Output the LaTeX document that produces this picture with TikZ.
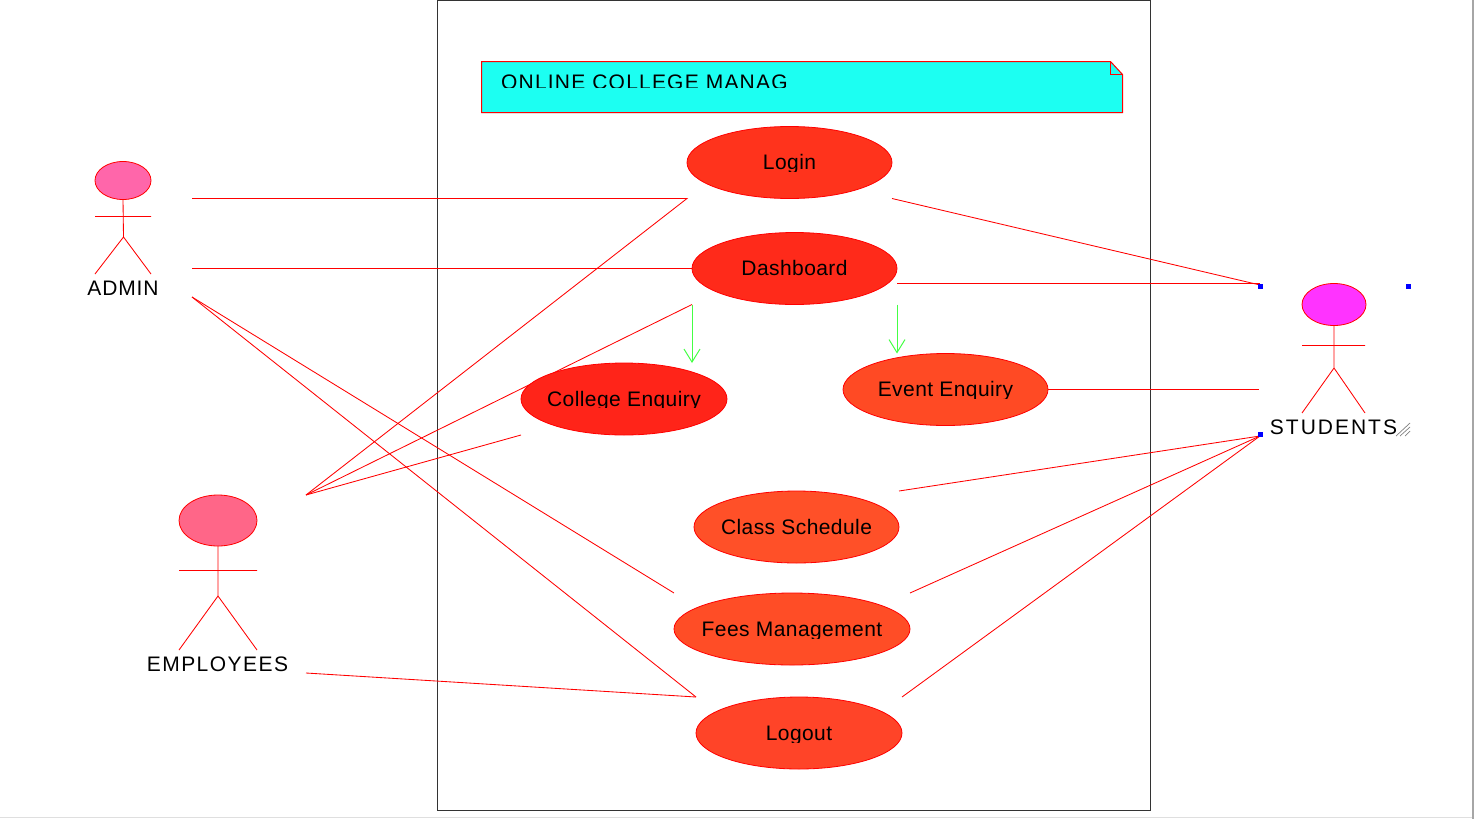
\documentclass[tikz,border=0pt]{standalone}
\usepackage{fontspec}
\setmainfont{Liberation Sans}
\usetikzlibrary{shapes.geometric,arrows.meta,backgrounds}
\definecolor{logincol}{HTML}{FF331C}
\definecolor{dashcol}{HTML}{FF2A1A}
\definecolor{collegecol}{HTML}{FF2419}
\definecolor{eventcol}{HTML}{FF4A24}
\definecolor{classcol}{HTML}{FF5028}
\definecolor{feescol}{HTML}{FF4D26}
\definecolor{logoutcol}{HTML}{FF4428}
\definecolor{admincol}{HTML}{FF66AA}
\definecolor{empcol}{HTML}{FF6688}
\definecolor{studcol}{HTML}{FF33FF}
\definecolor{notecol}{HTML}{1CFFF2}
\definecolor{framecol}{HTML}{333333}
\definecolor{extendcol}{HTML}{44FF44}
\tikzset{
  usecase/.style={ellipse,draw=red,line width=0.8pt,inner sep=0pt,outer sep=0pt,minimum height=72pt},
  head/.style={ellipse,draw=red,line width=0.8pt,inner sep=0pt,outer sep=0pt},
  label/.style={font=\fontsize{21}{21}\selectfont,anchor=base,inner sep=0pt},
  link/.style={draw=red,line width=0.85pt},
  extend/.style={draw=extendcol,line width=1pt,-{Straight Barb[length=13pt,width=16pt]}},
  handle/.style={fill=blue,inner sep=0pt,minimum size=5pt}
}
\begin{document}
\begin{tikzpicture}[x=1pt,y=-1pt]
  \useasboundingbox (0,0) rectangle (1474,819);
  % window edge
  \fill[gray!70] (1472,0) rectangle (1474,819);
  \draw[gray!25,line width=1pt] (0,817.5) -- (1472,817.5);

  % note
  \fill[notecol] (481.5,61.5) -- (1110.5,61.5) -- (1122.5,74.5) -- (1122.5,113) -- (481.5,113) -- cycle;
  \draw[red,line width=1pt] (481.5,61.5) -- (1110.5,61.5) -- (1122.5,74.5) -- (1122.5,112.5) -- (481.5,112.5) -- cycle;
  \draw[red,line width=1pt] (1110.5,61.5) -- (1110.5,74.5) -- (1122.5,74.5);
  \begin{scope}
    \clip (495,60) rectangle (789,87);
    \node[label,anchor=base west] (title) at (501,89) {\addfontfeature{LetterSpace=5.7}ONLINE COLLEGE MANAG};
  \end{scope}

  % use cases
  \foreach \name/\x/\y/\w/\col/\cut/\txt in {
      login/789.5/162.5/205/logincol/9/Login,
      dash/794.5/268.5/205/dashcol/9/Dashboard,
      college/624/399/206/collegecol/8/College Enquiry,
      event/945.5/389.5/205/eventcol/9/Event Enquiry,
      class/796.5/527/205/classcol/9/Class Schedule,
      fees/792/629/236/feescol/9/Fees Management,
      logout/799/733/206/logoutcol/9/Logout}{
    \node[usecase,minimum width=\w pt,fill=\col] (\name) at (\x,\y) {};
    \begin{scope}
      \clip ([yshift=36pt]\name.west) rectangle ([yshift=-\cut pt]\name.east);
      \node[label] (\name text) at ([yshift=-7pt]\name.center) {\addfontfeature{LetterSpace=2}\txt};
    \end{scope}
  }

  % admin
  \node[head,fill=admincol,minimum width=56pt,minimum height=38pt] (adminhead) at (123,180.5) {};
  \draw[link] (adminhead.south) -- (123.5,237) -- (95,274) (123.5,237) -- (151,274) (95,216.5) -- (151,216.5);
  \node[label] (admin) at (123,295.5) {\addfontfeature{LetterSpace=4}ADMIN};

  % employees
  \node[head,fill=empcol,minimum width=78pt,minimum height=51pt] (emphead) at (218,520.5) {};
  \draw[link] (emphead.south) -- (218,596) -- (179,650) (218,596) -- (257,650) (179,570.5) -- (257,570.5);
  \node[label] (emp) at (217.5,671) {\addfontfeature{LetterSpace=7}EMPLOYEES};

  % students
  \node[head,fill=studcol,minimum width=64pt,minimum height=42pt] (studhead) at (1334,304.5) {};
  \draw[link] (studhead.south) -- (1334,368) -- (1302,413) (1334,368) -- (1365,413) (1302,345.5) -- (1365,345.5);
  \node[label] (stud) at (1333.5,434) {\addfontfeature{LetterSpace=9.5}STUDENTS};

  % free ends
  \coordinate (admintop) at (192,198.5);
  \coordinate (adminmid) at (192,268.5);
  \coordinate (adminlow) at (192,297);
  \coordinate (emptop) at (306,495);
  \coordinate (emplow) at (306,673);
  \coordinate (studtop) at (1260,285);
  \coordinate (studdash) at (1260,283.5);
  \coordinate (studmid) at (1259,389.5);
  \coordinate (studlow) at (1260,436);

  \begin{pgfonlayer}{background}
    \draw[framecol,line width=1pt] (437.5,0.5) rectangle (1150.5,810.5);
    \draw[link] (admintop) -- (login.west |- login.south) -- (emptop);
    \draw[link] (adminmid) -- (dash.west);
    \draw[link] (adminlow) -- (fees.west |- fees.north);
    \draw[link] (adminlow) -- (logout.west |- logout.north);
    \draw[link] (emptop) -- (dash.west |- dash.south);
    \draw[link] (emptop) -- (college.west |- college.south);
    \draw[link] (emplow) -- (logout.west |- logout.north);
    \draw[link] (login.east |- login.south) -- (studtop);
    \draw[link] (dash.east |- studdash) -- (studdash);
    \draw[link] (event.east) -- (studmid);
    \draw[link] (class.east |- class.north) -- (studlow);
    \draw[link] (fees.east |- fees.north) -- (studlow);
    \draw[link] (logout.east |- logout.north) -- (studlow);
  \end{pgfonlayer}
  \draw[extend] (dash.west |- dash.south) -- (college.north -| dash.west);
  \draw[extend] (dash.east |- dash.south) -- (event.north -| dash.east);

  % selection
  \foreach \hx/\hy [count=\i] in {1260.5/286,1408/286,1260.5/434}
    \node[handle] (handle\i) at (\hx,\hy) {};
  \draw[gray,line width=0.7pt] (1396,436) -- (1410,423) (1400,436) -- (1410,427) (1405,436) -- (1410,431);
\end{tikzpicture}
\end{document}
